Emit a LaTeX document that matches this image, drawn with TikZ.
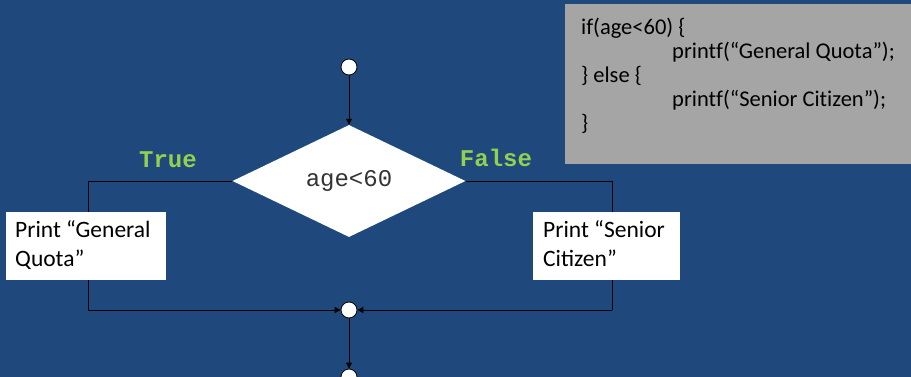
\documentclass[tikz,border=0pt]{standalone}
\usepackage{fontspec}
\setmainfont{Carlito}
\newfontfamily\plaincode[Ligatures=NoCommon]{Carlito}
\newfontfamily\codefont{Liberation Mono}
\usetikzlibrary{shapes.geometric,arrows.meta}
\definecolor{bgblue}{RGB}{31,73,125}
\definecolor{codegray}{RGB}{165,165,165}
\definecolor{labelgreen}{RGB}{146,208,80}
\tikzset{
  x=1pt, y=-1pt,
  conn/.style={draw=black, line width=0.8pt},
  arr/.style={conn, -{Triangle[length=6pt,width=6pt]}},
  junction/.style={circle, draw=black, fill=white, line width=0.8pt, minimum size=16pt, inner sep=0pt},
  decision/.style={diamond, fill=white, inner sep=0pt, minimum width=233pt, minimum height=112pt, aspect=2.08,
    font=\codefont\fontsize{24}{28}\selectfont, text=black!80},
  printbox/.style={anchor=north west, align=left, inner sep=0pt,
    font=\fontsize{23.5}{29.5}\selectfont},
  branchlabel/.style={font=\codefont\bfseries\fontsize{24}{28}\selectfont, text=labelgreen},
}
\begin{document}
\begin{tikzpicture}
\useasboundingbox (0,0) rectangle (911,377);
\fill[bgblue] (0,0) rectangle (911,377);

% code listing panel
\fill[codegray] (565,4) rectangle (911,164);
\node[anchor=north west, inner sep=0pt, align=left, font=\plaincode\fontsize{22.5}{24}\selectfont] (code) at (581,18)
  {if(age<60) \{\\
   \hspace*{91pt}printf(“General Quota”);\\
   \} else \{\\
   \hspace*{91pt}printf(“Senior Citizen”);\\
   \}};

% flow elements
\node[junction] (start) at (349,67) {};
\node[decision] (cond) at (349,181) {age<60};
\node[junction] (merge) at (349,310) {};
\node[junction] (stop) at (349,377) {};

\coordinate (lt) at (88,181);
\coordinate (lb) at (88,310);
\coordinate (rt) at (612,181);
\coordinate (rb) at (612,310);

\draw[arr] (start) -- (cond.north);
\draw[conn] (cond.west) -- (lt) -- (lb);
\draw[arr] (lb) -- (merge);
\draw[conn] (cond.east) -- (rt) -- (rb);
\draw[arr] (rb) -- (merge);
\draw[arr] (merge) -- (stop);

\fill[white] (6,212) rectangle (166,280);
\node[printbox] (yes) at (15,220) {Print “General\\Quota”};
\fill[white] (533,212) rectangle (680,280);
\node[printbox] (no) at (543,220) {Print “Senior\\Citizen”};

\node[branchlabel] (tlabel) at (168,160) {True};
\node[branchlabel] (flabel) at (496,158) {False};
\end{tikzpicture}
\end{document}
